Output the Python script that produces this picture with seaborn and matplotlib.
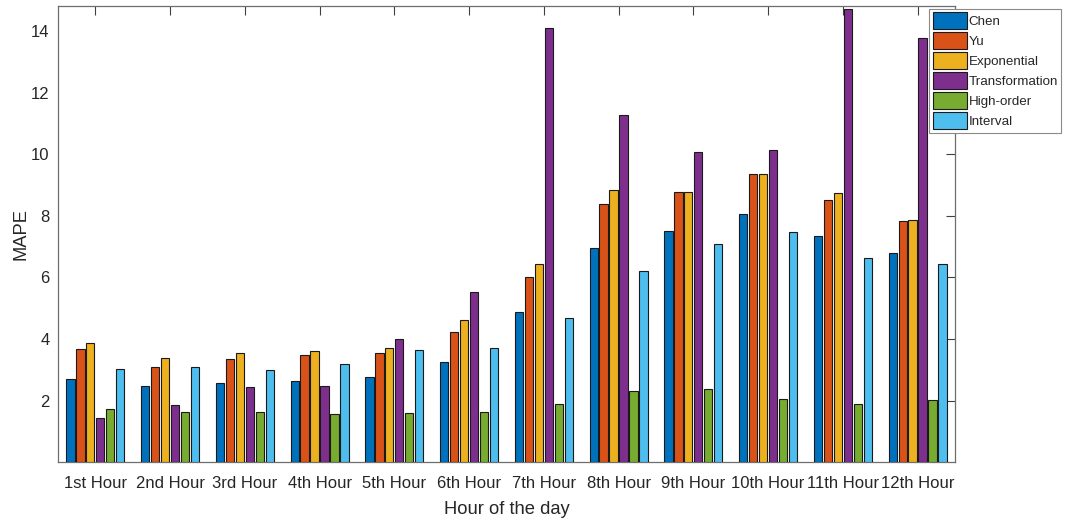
import numpy as np
import pandas as pd
import matplotlib
matplotlib.use("Agg")
import matplotlib.pyplot as plt
import seaborn as sns

hours = ["1st Hour", "2nd Hour", "3rd Hour", "4th Hour", "5th Hour", "6th Hour",
         "7th Hour", "8th Hour", "9th Hour", "10th Hour", "11th Hour", "12th Hour"]
methods = ["Chen", "Yu", "Exponential", "Transformation", "High-order", "Interval"]

chen = [2.71, 2.48, 2.56, 2.62, 2.77, 3.25, 4.88, 6.94, 7.52, 8.06, 7.34, 6.79]
yu = [3.66, 3.08, 3.36, 3.48, 3.55, 4.23, 6.00, 8.40, 8.76, 9.37, 8.51, 7.84]
exponential = [3.87, 3.37, 3.53, 3.60, 3.70, 4.63, 6.42, 8.85, 8.79, 9.36, 8.74, 7.87]
transformation = [1.44, 1.86, 2.45, 2.47, 4.01, 5.54, 14.11, 11.28, 10.06, 10.15, 14.71, 13.79]
high_order = [1.73, 1.63, 1.62, 1.55, 1.60, 1.62, 1.90, 2.32, 2.38, 2.06, 1.88, 2.02]
interval = [3.04, 3.10, 2.98, 3.19, 3.63, 3.71, 4.68, 6.22, 7.10, 7.46, 6.64, 6.43]

colors = ["#0072BD", "#D95319", "#EDB120", "#7E2F8E", "#77AC30", "#4DBEEE"]

series = [chen, yu, exponential, transformation, high_order, interval]
df = pd.DataFrame({
    "hour": np.tile(hours, len(methods)),
    "method": np.repeat(methods, len(hours)),
    "mape": np.concatenate(series),
})

sns.set_style("white")
plt.rcParams["font.family"] = ["Liberation Sans", "DejaVu Sans"]

fig = plt.figure(figsize=(10.73, 5.18), dpi=100)
ax = fig.add_axes([0.054, 0.108, 0.836, 0.881])

sns.barplot(data=df, x="hour", y="mape", hue="method", order=hours,
            hue_order=methods, palette=colors, width=0.8, gap=0.17,
            edgecolor="#1a1a1a", linewidth=0.8, saturation=1, ax=ax,
            errorbar=None, zorder=3)

ax.set_xlim(-0.5, 11.5)
ax.set_ylim(0, 14.83)
ax.set_yticks([2, 4, 6, 8, 10, 12, 14])
ax.set_xlabel("Hour of the day", fontsize=13.2, color="#262626", labelpad=7)
ax.set_ylabel("MAPE", fontsize=13.2, color="#262626", labelpad=1)
ax.tick_params(axis="both", direction="in", length=6.5, width=0.8,
               color="#404040", labelsize=12, labelcolor="#262626",
               top=True, right=True)
ax.tick_params(axis="x", pad=10)
ax.tick_params(axis="y", pad=6)
for s in ax.spines.values():
    s.set_visible(True)
    s.set_color("#6e6e6e")
    s.set_linewidth(0.9)

handles, labels = ax.get_legend_handles_labels()
if ax.get_legend() is not None:
    ax.get_legend().remove()
leg = ax.legend(handles, labels, loc="upper left", bbox_to_anchor=(0.866, 0.983),
                bbox_transform=fig.transFigure, borderaxespad=0, fontsize=9.6,
                handlelength=2.55, handleheight=1.59, labelspacing=0.225,
                handletextpad=0.15, borderpad=0.25, fancybox=False, framealpha=1,
                edgecolor="#8a8a8a")
leg.get_frame().set_linewidth(0.8)
leg.set_zorder(10)

fig.savefig("out.png", dpi=100, facecolor="white")
